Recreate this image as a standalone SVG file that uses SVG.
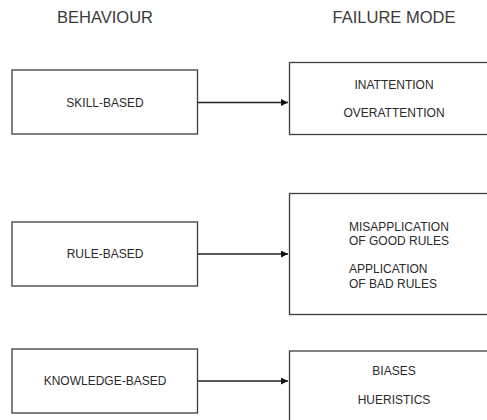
<svg xmlns="http://www.w3.org/2000/svg" width="487" height="420" viewBox="0 0 487 420">
  <style>
    .hdr { font-family: "Liberation Sans", Arial, sans-serif; font-size: 16.5px; fill: #3a3a3a; text-anchor: middle; }
    .lbl { font-family: "Liberation Sans", Arial, sans-serif; font-size: 12px; fill: #2a2a2a; }
    .mid { text-anchor: middle; }
    .box { fill: #ffffff; stroke: #3c3c3c; stroke-width: 1.3; }
    .edge { stroke: #222222; stroke-width: 1.5; fill: none; marker-end: url(#head); }
  </style>
  <defs>
    <marker id="head" viewBox="0 0 10 10" refX="10" refY="5" markerWidth="7" markerHeight="7" markerUnits="userSpaceOnUse" orient="auto">
      <path d="M0,0 L10,5 L0,10 z" fill="#111111"/>
    </marker>
  </defs>
  <rect width="487" height="420" fill="#ffffff"/>

  <g id="headers">
    <text class="hdr" x="105" y="23">BEHAVIOUR</text>
    <text class="hdr" x="394" y="23">FAILURE MODE</text>
  </g>

  <g id="skill-based">
    <rect class="box" x="12" y="70" width="185.5" height="64"/>
    <text class="lbl mid" x="105" y="107">SKILL-BASED</text>
  </g>
  <g id="skill-failures">
    <rect class="box" x="289.5" y="62.5" width="212" height="72"/>
    <text class="lbl mid" x="394" y="89">INATTENTION</text>
    <text class="lbl mid" x="394" y="117">OVERATTENTION</text>
  </g>

  <g id="rule-based">
    <rect class="box" x="12" y="222" width="185.5" height="64"/>
    <text class="lbl mid" x="105" y="258">RULE-BASED</text>
  </g>
  <g id="rule-failures">
    <rect class="box" x="289.5" y="193.5" width="212" height="121"/>
    <text class="lbl" x="349" y="231">MISAPPLICATION</text>
    <text class="lbl" x="349" y="245">OF GOOD RULES</text>
    <text class="lbl" x="349" y="273">APPLICATION</text>
    <text class="lbl" x="349" y="288">OF BAD RULES</text>
  </g>

  <g id="knowledge-based">
    <rect class="box" x="12" y="349" width="185.5" height="64"/>
    <text class="lbl mid" x="105" y="385">KNOWLEDGE-BASED</text>
  </g>
  <g id="knowledge-failures">
    <rect class="box" x="289.5" y="351" width="212" height="90"/>
    <text class="lbl mid" x="394" y="375">BIASES</text>
    <text class="lbl mid" x="394" y="404">HUERISTICS</text>
  </g>

  <g id="connectors">
    <line class="edge" x1="198" y1="102.5" x2="288" y2="102.5"/>
    <line class="edge" x1="198" y1="254" x2="288" y2="254"/>
    <line class="edge" x1="198" y1="381" x2="288" y2="381"/>
  </g>
</svg>
